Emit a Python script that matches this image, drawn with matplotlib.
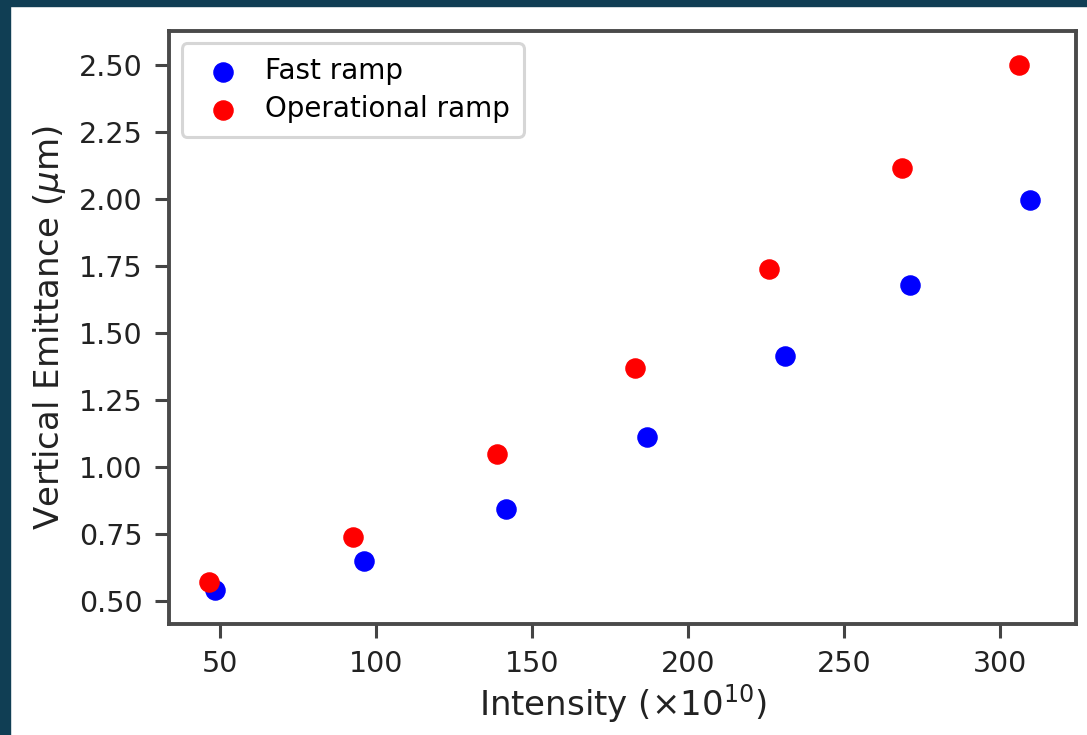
import numpy as np
import matplotlib.pyplot as plt
from matplotlib.patches import Rectangle

# Intensity (x1e10) vs vertical emittance (um)
fast_intensity = [48.4, 96.2, 141.7, 186.9, 231.1, 271.2, 309.6]
fast_emittance = [0.54, 0.65, 0.845, 1.11, 1.415, 1.68, 1.995]

oper_intensity = [46.5, 92.6, 138.8, 183.0, 226.0, 268.6, 306.1]
oper_emittance = [0.57, 0.74, 1.05, 1.37, 1.74, 2.115, 2.50]

x_ticks = [50, 100, 150, 200, 250, 300]
y_ticks = [0.50, 0.75, 1.00, 1.25, 1.50, 1.75, 2.00, 2.25, 2.50]

plt.rcParams['font.family'] = 'DejaVu Sans'

fig = plt.figure(figsize=(10.87, 7.35), dpi=100, facecolor='white')

# dark frame strips on the top and left edge of the screenshot
fig.patches.append(Rectangle((0, 0.992), 1, 0.008, transform=fig.transFigure,
                             color='#103e54', zorder=-1))
fig.patches.append(Rectangle((0, 0), 0.0095, 1, transform=fig.transFigure,
                             color='#103e54', zorder=-1))

ax = fig.add_axes([169/1087, 1 - 624/735, (1076-169)/1087, (624-31)/735])

ax.scatter(fast_intensity, fast_emittance, s=190, color='blue', label='Fast ramp')
ax.scatter(oper_intensity, oper_emittance, s=190, color='red', label='Operational ramp')

ax.set_xlim(33.7, 324.4)
ax.set_ylim(0.414, 2.627)
ax.set_xticks(x_ticks)
ax.set_yticks(y_ticks)
ax.set_yticklabels(['%.2f' % v for v in y_ticks])

ax.tick_params(labelsize=20.5, length=10, width=2.2, color='#444444', labelcolor='#222222', pad=9)
for sp in ax.spines.values():
    sp.set_linewidth(2.8)
    sp.set_color('#4a4a4a')

ax.set_xlabel(r'Intensity ($\times 10^{10}$)', fontsize=24.5, color='#222222', labelpad=3)
ax.set_ylabel(r'Vertical Emittance ($\mu$m)', fontsize=24.5, color='#222222', labelpad=8)

leg = ax.legend(loc='upper left', fontsize=20, frameon=True, borderpad=0.5,
                handletextpad=0.5, labelspacing=0.35, borderaxespad=0.45)
leg.get_frame().set_edgecolor('#cccccc')
leg.get_frame().set_linewidth(2.2)

plt.savefig('out.png', dpi=100, facecolor=fig.get_facecolor())
